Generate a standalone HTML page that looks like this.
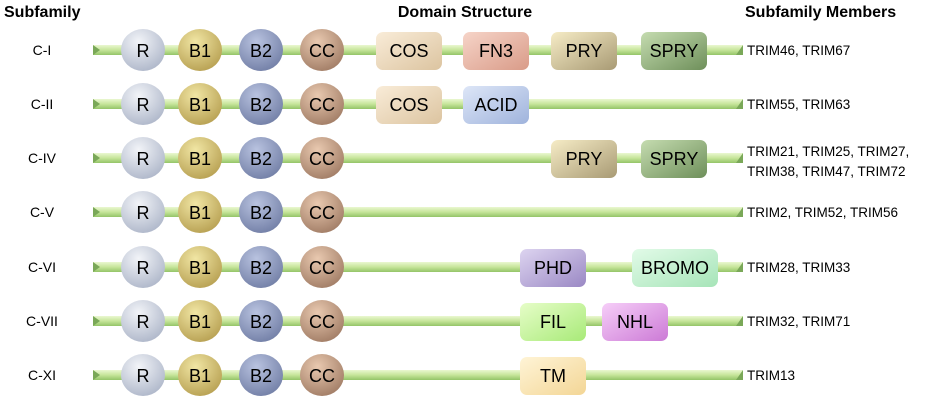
<!DOCTYPE html><html><head><style>body{margin:0;background:#fff}svg text{font-family:"Liberation Sans",Arial,sans-serif}</style></head><body>
<svg width="929" height="407" viewBox="0 0 929 407" xmlns="http://www.w3.org/2000/svg">
<defs>
<linearGradient id="bar" x1="0" y1="0" x2="0" y2="1"><stop offset="0" stop-color="#eaf7d0"/><stop offset=".5" stop-color="#c6e59a"/><stop offset="1" stop-color="#94c468"/></linearGradient>
<radialGradient id="gR" cx=".4" cy=".3" r=".8"><stop offset="0" stop-color="#f2f4f8"/><stop offset="1" stop-color="#a9b2c6"/></radialGradient>
<radialGradient id="gB1" cx=".4" cy=".3" r=".8"><stop offset="0" stop-color="#f1e6a4"/><stop offset="1" stop-color="#b39b4c"/></radialGradient>
<radialGradient id="gB2" cx=".4" cy=".3" r=".8"><stop offset="0" stop-color="#b9c3e0"/><stop offset="1" stop-color="#6d7aa2"/></radialGradient>
<radialGradient id="gCC" cx=".4" cy=".3" r=".8"><stop offset="0" stop-color="#e9c9b0"/><stop offset="1" stop-color="#9c7760"/></radialGradient>
<linearGradient id="gCOS" x1="0" y1="0" x2="1" y2="1"><stop offset="0" stop-color="#f9ecd8"/><stop offset="1" stop-color="#dcc4a0"/></linearGradient>
<linearGradient id="gFN3" x1="0" y1="0" x2="1" y2="1"><stop offset="0" stop-color="#f6d4c8"/><stop offset="1" stop-color="#d99b88"/></linearGradient>
<linearGradient id="gPRY" x1="0" y1="0" x2="1" y2="1"><stop offset="0" stop-color="#f6ecc6"/><stop offset="1" stop-color="#a89a74"/></linearGradient>
<linearGradient id="gSPRY" x1="0" y1="0" x2="1" y2="1"><stop offset="0" stop-color="#c5dcb0"/><stop offset="1" stop-color="#6e8f5a"/></linearGradient>
<linearGradient id="gACID" x1="0" y1="0" x2="1" y2="1"><stop offset="0" stop-color="#dde6f7"/><stop offset="1" stop-color="#9fb3dc"/></linearGradient>
<linearGradient id="gPHD" x1="0" y1="0" x2="1" y2="1"><stop offset="0" stop-color="#ddd4f0"/><stop offset="1" stop-color="#9a88c4"/></linearGradient>
<linearGradient id="gBRO" x1="0" y1="0" x2="1" y2="1"><stop offset="0" stop-color="#e2fbe8"/><stop offset="1" stop-color="#a6e4b8"/></linearGradient>
<linearGradient id="gFIL" x1="0" y1="0" x2="1" y2="1"><stop offset="0" stop-color="#e6fdc8"/><stop offset="1" stop-color="#a8ea78"/></linearGradient>
<linearGradient id="gNHL" x1="0" y1="0" x2="1" y2="1"><stop offset="0" stop-color="#f6cef8"/><stop offset="1" stop-color="#cc7ad6"/></linearGradient>
<linearGradient id="gTM" x1="0" y1="0" x2="1" y2="1"><stop offset="0" stop-color="#fff4d6"/><stop offset="1" stop-color="#f3d696"/></linearGradient>
<g id="core">
<rect x="93" y="-5" width="650" height="10" fill="url(#bar)"/>
<polygon points="93,-5 100,0 93,5" fill="#7aa858"/><polygon points="743,-5 736,5 743,5" fill="#7aa858"/>
<ellipse cx="143" cy="0" rx="22" ry="21" fill="url(#gR)"/><text x="143" y="7" font-size="18" text-anchor="middle">R</text>
<ellipse cx="200" cy="0" rx="22" ry="21" fill="url(#gB1)"/><text x="200" y="7" font-size="18" text-anchor="middle">B1</text>
<ellipse cx="261" cy="0" rx="22" ry="21" fill="url(#gB2)"/><text x="261" y="7" font-size="18" text-anchor="middle">B2</text>
<ellipse cx="322" cy="0" rx="22" ry="21" fill="url(#gCC)"/><text x="322" y="7" font-size="18" text-anchor="middle">CC</text>
</g>
</defs>
<g font-weight="bold" font-size="16"><text x="4" y="17">Subfamily</text><text x="465" y="17" text-anchor="middle">Domain Structure</text><text x="745" y="17">Subfamily Members</text></g>
<g font-size="14" text-anchor="middle"><text x="42" y="55">C-I</text><text x="42" y="109">C-II</text><text x="42" y="163">C-IV</text><text x="42" y="217">C-V</text><text x="42" y="272">C-VI</text><text x="42" y="326">C-VII</text><text x="42" y="380">C-XI</text></g>
<use href="#core" y="50"/><use href="#core" y="104"/><use href="#core" y="158"/><use href="#core" y="212"/><use href="#core" y="267"/><use href="#core" y="321"/><use href="#core" y="375"/>
<g font-size="18" text-anchor="middle">
<rect x="376" y="32" width="66" height="38" rx="7" fill="url(#gCOS)"/><text x="409" y="57">COS</text>
<rect x="463" y="32" width="66" height="38" rx="7" fill="url(#gFN3)"/><text x="496" y="57">FN3</text>
<rect x="551" y="32" width="66" height="38" rx="7" fill="url(#gPRY)"/><text x="584" y="57">PRY</text>
<rect x="641" y="32" width="66" height="38" rx="7" fill="url(#gSPRY)"/><text x="674" y="57">SPRY</text>
<rect x="376" y="86" width="66" height="38" rx="7" fill="url(#gCOS)"/><text x="409" y="111">COS</text>
<rect x="463" y="86" width="66" height="38" rx="7" fill="url(#gACID)"/><text x="496" y="111">ACID</text>
<rect x="551" y="140" width="66" height="38" rx="7" fill="url(#gPRY)"/><text x="584" y="165">PRY</text>
<rect x="641" y="140" width="66" height="38" rx="7" fill="url(#gSPRY)"/><text x="674" y="165">SPRY</text>
<rect x="520" y="249" width="66" height="38" rx="7" fill="url(#gPHD)"/><text x="553" y="274">PHD</text>
<rect x="632" y="249" width="86" height="38" rx="7" fill="url(#gBRO)"/><text x="675" y="274">BROMO</text>
<rect x="520" y="303" width="66" height="38" rx="7" fill="url(#gFIL)"/><text x="553" y="328">FIL</text>
<rect x="602" y="303" width="66" height="38" rx="7" fill="url(#gNHL)"/><text x="635" y="328">NHL</text>
<rect x="520" y="357" width="66" height="38" rx="7" fill="url(#gTM)"/><text x="553" y="382">TM</text>
</g>
<g font-size="13.5"><text x="747" y="55">TRIM46, TRIM67</text><text x="747" y="109">TRIM55, TRIM63</text><text x="747" y="156">TRIM21, TRIM25, TRIM27,</text><text x="747" y="176">TRIM38, TRIM47, TRIM72</text><text x="747" y="217">TRIM2, TRIM52, TRIM56</text><text x="747" y="272">TRIM28, TRIM33</text><text x="747" y="326">TRIM32, TRIM71</text><text x="747" y="380">TRIM13</text></g>
</svg></body></html>
